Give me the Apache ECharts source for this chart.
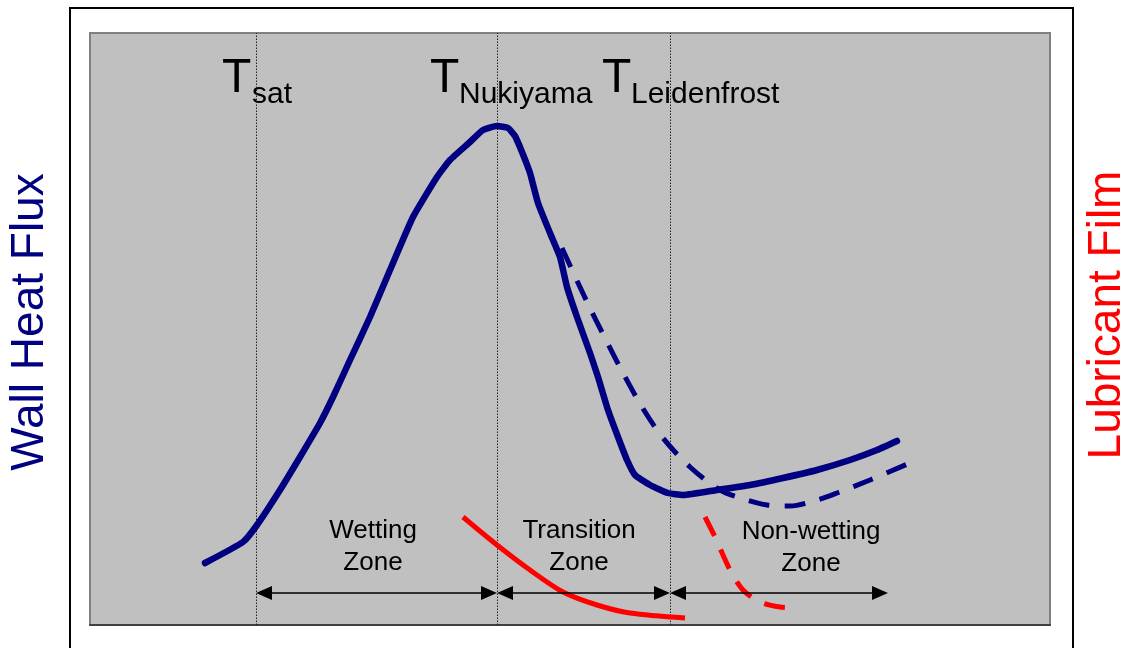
<!DOCTYPE html>
<html>
<head>
<meta charset="utf-8">
<script src="https://cdn.jsdelivr.net/npm/echarts@6/dist/echarts.min.js"></script>
<style>
html,body{margin:0;padding:0;background:#fff;}
#chart{width:1135px;height:648px;}
</style>
</head>
<body>
<div id="chart"></div>
<script>
// Wall temperature (arbitrary units) vs. heat flux / film thickness (arbitrary units)
const heatFluxSolid = [
  [115,62],[153,83],[167,100],[190,135],[210,168],[230,202],[243,228],[260,265],[280,308],
  [300,355],[323,408],[347,448],[360,465],[380,483],[393,495],[407,499],[418,497],[425,489],
  [432,473],[440,452],[448,422],[460,392],[470,368],[477,338],[487,308],[500,272],[508,248],
  [518,215],[528,188],[537,165],[545,150],[560,140],[578,132],[593,130],[627,135],[660,140],
  [693,147],[727,155],[760,165],[787,175],[807,184]
];
const heatFluxDashed = [
  [472,377],[497,323],[515,287],[533,252],[552,218],[573,187],[600,158],[630,135],[657,125],
  [677,120],[700,119],[727,125],[747,132],[780,145],[822,163]
];
const filmSolid = [
  [373,108],[407,80],[440,55],[473,33],[507,20],[540,12],[595,7]
];
const filmDashed = [
  [615,108],[625,88],[640,55],[653,35],[670,23],[690,18],[708,17]
];
const tempMarks = [166, 407, 580];           // T_sat, T_Nukiyama, T_Leidenfrost
const zoneArrowY = 32;
const zones = [
  {name: 'Wetting\nZone', from: 166, to: 407},
  {name: 'Transition\nZone', from: 407, to: 580},
  {name: 'Non-wetting\nZone', from: 580, to: 798}
];

const FONT = 'Liberation Sans, Arial, sans-serif';
const chart = echarts.init(document.getElementById('chart'), null, {renderer: 'canvas'});

const ARROW = 16;
const arrowData = zones.map(z => [
  {coord: [z.from + ARROW / 2, zoneArrowY]},
  {coord: [z.to - ARROW / 2, zoneArrowY]}
]);

const option = {
  backgroundColor: '#ffffff',
  animation: false,
  grid: {
    left: 90, right: 85, top: 33, bottom: 23,
    show: true, backgroundColor: '#C0C0C0', borderColor: '#808080', borderWidth: 2
  },
  xAxis: {
    type: 'value', min: 0, max: 960,
    axisLine: {show: true, onZero: false, lineStyle: {color: '#404040', width: 2}},
    axisTick: {show: false}, axisLabel: {show: false}, splitLine: {show: false}
  },
  yAxis: {
    type: 'value', min: 0, max: 592,
    axisLine: {show: false}, axisTick: {show: false}, axisLabel: {show: false}, splitLine: {show: false}
  },
  series: [
    {
      name: 'Wall Heat Flux', type: 'line', data: heatFluxSolid, showSymbol: false, smooth: 0.15,
      lineStyle: {color: '#000080', width: 6.5, cap: 'round', join: 'round'}, z: 5,
      markLine: {
        silent: true, symbol: ['none', 'none'], label: {show: false}, z: 1,
        lineStyle: {type: [1.5, 1.5], color: '#222222', width: 1},
        data: tempMarks.map(x => [{coord: [x, 0]}, {coord: [x, 592]}])
      }
    },
    {
      type: 'line', data: [[0, 0]], showSymbol: false, silent: true, lineStyle: {opacity: 0},
      markLine: {
        silent: true, symbol: ['triangle', 'triangle'], symbolSize: [14, ARROW],
        label: {show: false},
        lineStyle: {type: 'solid', color: '#000000', width: 1.5},
        itemStyle: {color: '#000000'},
        data: arrowData
      }
    },
    {
      name: 'Wall Heat Flux (alt)', type: 'line', data: heatFluxDashed, showSymbol: false, smooth: 0.3,
      lineStyle: {color: '#000080', width: 5, type: [21, 15], cap: 'butt'}, z: 4
    },
    {
      name: 'Lubricant Film', type: 'line', data: filmSolid, showSymbol: false, smooth: 0.3,
      lineStyle: {color: '#FF0000', width: 5, cap: 'butt'}, z: 4
    },
    {
      name: 'Lubricant Film (alt)', type: 'line', data: filmDashed, showSymbol: false, smooth: 0.3,
      lineStyle: {color: '#FF0000', width: 5, type: [21, 15], cap: 'butt'}, z: 4
    }
  ],
  graphic: [
    {type: 'rect', shape: {x: 70, y: 8, width: 1003, height: 700}, style: {fill: 'none', stroke: '#000', lineWidth: 2}, silent: true},
    {type: 'text', x: 30, y: 322, rotation: Math.PI / 2,
      style: {text: 'Wall Heat Flux', fill: '#000080', font: '46px ' + FONT, align: 'center', verticalAlign: 'middle'}},
    {type: 'text', x: 1107, y: 315, rotation: Math.PI / 2,
      style: {text: 'Lubricant Film', fill: '#FF0000', font: '46px ' + FONT, align: 'center', verticalAlign: 'middle'}},

    {type: 'text', x: 222, y: 79, style: {text: 'T', fill: '#000', font: '48px ' + FONT, align: 'left', verticalAlign: 'middle'}},
    {type: 'text', x: 252, y: 95, style: {text: 'sat', fill: '#000', font: '30px ' + FONT, align: 'left', verticalAlign: 'middle'}},
    {type: 'text', x: 430, y: 79, style: {text: 'T', fill: '#000', font: '48px ' + FONT, align: 'left', verticalAlign: 'middle'}},
    {type: 'text', x: 459, y: 95, style: {text: 'Nukiyama', fill: '#000', font: '30px ' + FONT, align: 'left', verticalAlign: 'middle'}},
    {type: 'text', x: 602, y: 79, style: {text: 'T', fill: '#000', font: '48px ' + FONT, align: 'left', verticalAlign: 'middle'}},
    {type: 'text', x: 631, y: 95, style: {text: 'Leidenfrost', fill: '#000', font: '30px ' + FONT, align: 'left', verticalAlign: 'middle'}},

    {type: 'text', x: 373, y: 547, style: {text: zones[0].name, fill: '#000', font: '26px ' + FONT, align: 'center', verticalAlign: 'middle', lineHeight: 32}},
    {type: 'text', x: 579, y: 547, style: {text: zones[1].name, fill: '#000', font: '26px ' + FONT, align: 'center', verticalAlign: 'middle', lineHeight: 32}},
    {type: 'text', x: 811, y: 548, style: {text: zones[2].name, fill: '#000', font: '26px ' + FONT, align: 'center', verticalAlign: 'middle', lineHeight: 32}}
  ]
};
chart.setOption(option);
</script>
</body>
</html>
